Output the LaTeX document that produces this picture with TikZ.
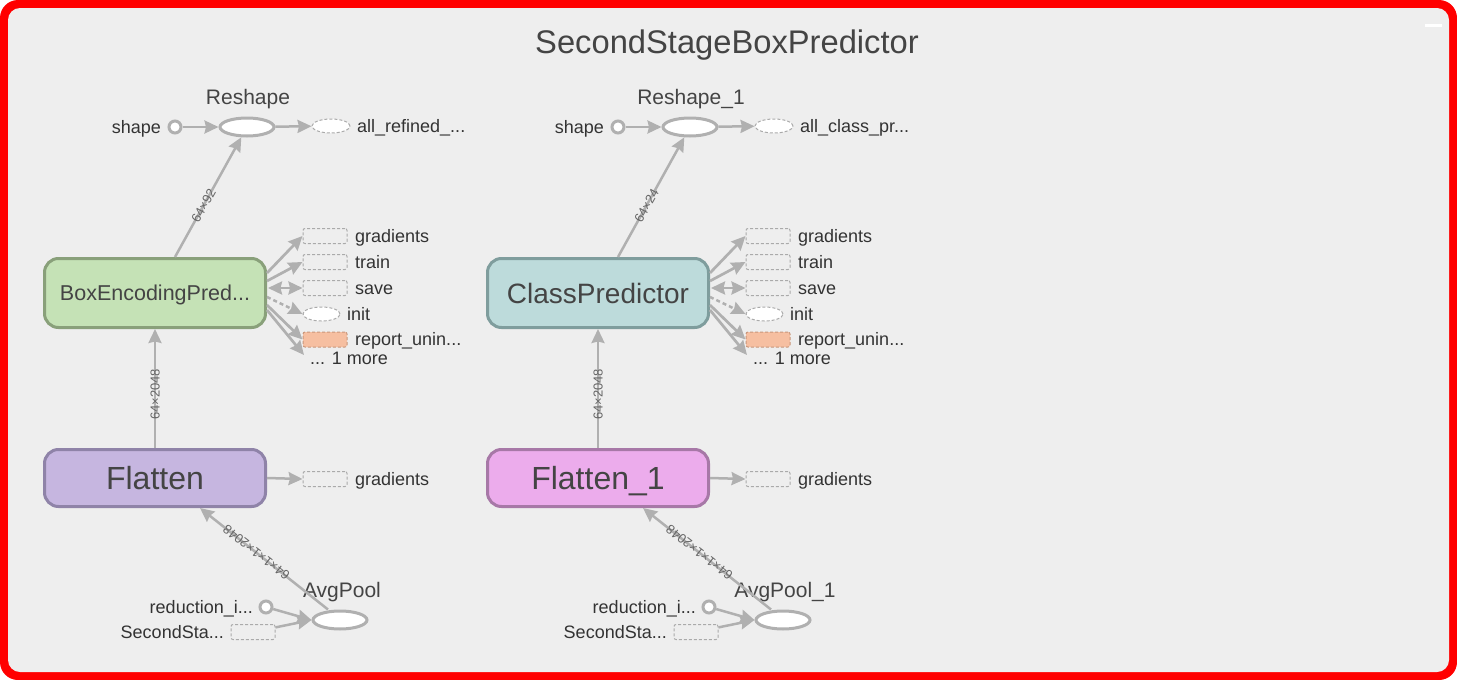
\documentclass[tikz,border=0pt]{standalone}
\usepackage{fontspec}
\setmainfont{Liberation Sans}
\usetikzlibrary{arrows.meta,shapes.geometric,calc}
\definecolor{bg}{HTML}{EEEEEE}
\definecolor{edgec}{HTML}{B0B0B0}
\definecolor{dashc}{HTML}{AAAAAA}
\definecolor{txt}{HTML}{333333}
\definecolor{ttl}{HTML}{444444}
\definecolor{elc}{HTML}{666666}
\definecolor{greenf}{HTML}{C5E2B6}
\definecolor{greend}{HTML}{89A07A}
\definecolor{purpf}{HTML}{C6B6E0}
\definecolor{purpd}{HTML}{8F83A8}
\definecolor{tealf}{HTML}{BDDBDB}
\definecolor{teald}{HTML}{7F9D9D}
\definecolor{pinkf}{HTML}{ECACEC}
\definecolor{pinkd}{HTML}{A778A7}
\definecolor{repf}{HTML}{F6BFA1}
\definecolor{repd}{HTML}{C8977C}
\newcommand\tdd{...}
\begin{document}
\begin{tikzpicture}[x=1pt,y=-1pt,
  tipa/.tip={Stealth[length=14pt,width=13pt,inset=1.5pt]},
  edge/.style={draw=edgec, line width=2.5pt, -tipa},
  fatedge/.style={edge, line width=2.7pt},
  opnode/.style={ellipse, draw=edgec, line width=3pt, fill=white, minimum width=54pt, minimum height=18pt, inner sep=0pt},
  constnode/.style={circle, draw=edgec, line width=3pt, fill=white, minimum size=12pt, inner sep=0pt},
  dbox/.style={rectangle, rounded corners=2pt, draw=dashc, line width=1pt, dash pattern=on 3pt off 2pt, minimum width=44pt, minimum height=15pt, inner sep=0pt},
  dell/.style={ellipse, draw=dashc, line width=1pt, dash pattern=on 3pt off 2pt, fill=white, minimum width=37pt, minimum height=14pt, inner sep=0pt},
  metanode/.style={rectangle, rounded corners=14pt, line width=3pt, minimum width=221pt, inner sep=0pt, text=ttl, text depth=0pt},
  lbl/.style={font=\fontsize{18}{20}\selectfont, text=txt, inner sep=0pt, text height=12.9pt, text depth=0pt},
  oplbl/.style={font=\fontsize{21}{24}\selectfont, text=ttl, inner sep=0pt, text height=15pt, text depth=0pt},
  elbl/.style={font=\fontsize{13}{15}\selectfont, text=elc, inner sep=0pt, text height=9.3pt, text depth=0pt}
]
\useasboundingbox (0,0) rectangle (1457,680);
\fill[white] (0,0) rectangle (1457,680);
\fill[red, rounded corners=18pt] (0,0) rectangle (1457,680);
\fill[bg, rounded corners=12pt] (8,8) rectangle (1449,672);
\fill[white] (1425,24) rectangle (1442,27);
\node[font=\fontsize{32.7}{36}\selectfont, text=ttl, text height=23.4pt, text depth=0pt, inner sep=0pt] (title) at (727,42) {SecondStageBoxPredictor};

\foreach \dx/\s/\rl/\ol/\mt/\mf/\md/\ms/\mh/\ft/\ff/\fd/\apl/\el in {
  0/a/{Reshape}/{all\_refined\_\tdd}/{BoxEncodingPred\tdd}/greenf/greend/21.5/15.4pt/{Flatten}/purpf/purpd/{AvgPool}/{64×92},
  443/b/{Reshape\_1}/{all\_class\_pr\tdd}/{ClassPredictor}/tealf/teald/28/20pt/{Flatten\_1}/pinkf/pinkd/{AvgPool\_1}/{64×24}}{
\begin{scope}[xshift=\dx pt]
  % Reshape group
  \node[opnode] (resh\s) at (247,127) {};
  \node[oplbl] (reshl\s) at (248,97) {\rl};
  \node[constnode] (shp\s) at (175,127) {};
  \node[lbl, anchor=east] (shpl\s) at (161,127) {shape};
  \node[dell, minimum width=38pt] (out\s) at (331,126) {};
  \node[lbl, anchor=west] (outl\s) at (357,126) {\ol};
  \draw[edge] (shp\s) -- (resh\s);
  \draw[edge] (resh\s) -- (out\s);
  % predictor
  \node[metanode, fill=\mf, draw=\md, minimum height=69pt, font=\fontsize{\ms}{\ms}\selectfont, text height=\mh] (pred\s) at (155,293) {\mt};
  \draw[edge] ($(pred\s.north)+(20,0)$) -- (resh\s) node[elbl, sloped, pos=0.43] (ela\s) {\el};
  % right items
  \node[dbox] (gr\s) at (325,236) {};
  \node[lbl, anchor=west] (grl\s) at (355,236) {gradients};
  \node[dbox] (tr\s) at (325,262) {};
  \node[lbl, anchor=west] (trl\s) at (355,262) {train};
  \node[dbox] (sv\s) at (325,288) {};
  \node[lbl, anchor=west] (svl\s) at (355,288) {save};
  \node[dell] (in\s) at (321.5,314) {};
  \node[lbl, anchor=west] (inl\s) at (347,314) {init};
  \node[dbox, fill=repf, draw=repd] (rp\s) at (325,339.5) {};
  \node[lbl, anchor=west] (rpl\s) at (355,339.5) {report\_unin\tdd};
  \node[lbl, anchor=west] (more\s) at (310,358) {\tdd{} 1 more};
  \draw[fatedge] ($(pred\s.east)+(0,-20)$) -- (gr\s.west);
  \draw[fatedge] ($(pred\s.east)+(0,-12)$) -- (tr\s.west);
  \draw[fatedge, tipa-tipa] ($(pred\s.east)+(1,-5)$) -- (sv\s.west);
  \draw[edge, dash pattern=on 4pt off 3pt] ($(pred\s.east)+(0,4)$) -- (in\s.west);
  \draw[fatedge] ($(pred\s.east)+(0,12)$) -- (rp\s.west);
  \draw[fatedge] ($(pred\s.east)+(0,17)$) -- ($(more\s.west)+(-6,-3)$);
  % flatten
  \node[metanode, fill=\ff, draw=\fd, minimum height=57pt, font=\fontsize{32}{32}\selectfont, text height=23pt] (flat\s) at (155,478) {\ft};
  \draw[edge] (flat\s) -- (pred\s) node[elbl, sloped, pos=0.45] (elb\s) {64×2048};
  \node[dbox] (fg\s) at (325,479) {};
  \node[lbl, anchor=west] (fgl\s) at (355,479) {gradients};
  \draw[edge] (flat\s.east) -- (fg\s.west);
  % avgpool
  \node[opnode] (ap\s) at (340,620) {};
  \node[oplbl] (apl\s) at (342,590) {\apl};
  \node[constnode] (red\s) at (266,607) {};
  \node[lbl, anchor=east] (redl\s) at (253,607) {reduction\_i\tdd};
  \node[dbox] (ss\s) at (253,632) {};
  \node[lbl, anchor=east] (ssl\s) at (224,632) {SecondSta\tdd};
  \draw[edge] (red\s) -- (ap\s.west);
  \draw[edge] (ss\s) -- (ap\s.west);
  \draw[edge] ($(ap\s.north)+(-12,0)$) -- ($(flat\s.south)+(45,0)$) node[elbl, pos=0.56, rotate=142] (elc\s) {64×1×1×2048};
\end{scope}
}
\end{tikzpicture}
\end{document}
